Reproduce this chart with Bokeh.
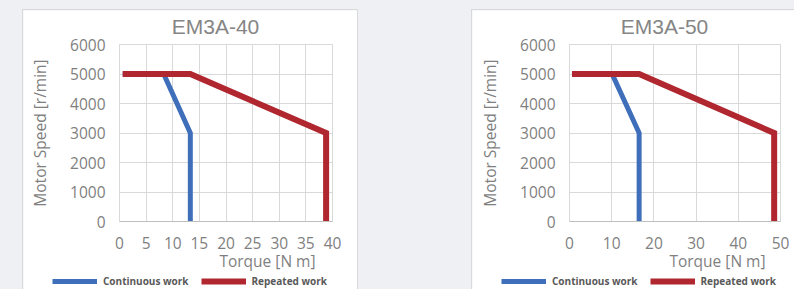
from bokeh.plotting import figure
from bokeh.models import Range1d, Label, Legend, LegendItem, FixedTicker, Grid
from bokeh.layouts import row
from bokeh.embed import file_html
from bokeh.resources import INLINE

# ---------------- data ----------------
speed_ticks = [0, 1000, 2000, 3000, 4000, 5000, 6000]

title_40 = "EM3A-40"
torque_ticks_40 = [0, 5, 10, 15, 20, 25, 30, 35, 40]
cont_torque_40 = [0.6, 8.3, 13.3, 13.3]
cont_speed_40 = [5000, 5000, 3000, 0]
rep_torque_40 = [0.6, 13.3, 38.8, 38.8]
rep_speed_40 = [5000, 5000, 3000, 0]

title_50 = "EM3A-50"
torque_ticks_50 = [0, 10, 20, 30, 40, 50]
cont_torque_50 = [0.6, 10.1, 16.5, 16.5]
cont_speed_50 = [5000, 5000, 3000, 0]
rep_torque_50 = [0.6, 16.5, 48.5, 48.5]
rep_speed_50 = [5000, 5000, 3000, 0]

series_names = ["Continuous work", "Repeated work"]
x_title = "Torque [N m]"
y_title = "Motor Speed [r/min]"

BLUE = "#3f6fba"
RED = "#b0272f"
GRID = "#d9d9d9"
TXT = "#7f7f7f"
FONT = "Open Sans"

HAS_CROSS = "cross_bounds" in Grid.properties()


def make_chart(title, ticks, ct, cs, rt, rs, width, frame_left, frame_width,
               margin_left, xlabel_right):
    height = 279
    frame_top = 34
    frame_bottom = 211
    xmax = ticks[-1]
    ymax = speed_ticks[-1]
    kx = frame_width / xmax
    ky = (frame_bottom - frame_top) / ymax

    def px2x(px):
        return (px - frame_left) / kx

    def py2y(py):
        return (frame_bottom - py) / ky

    p = figure(width=width, height=height,
               x_range=Range1d(px2x(0), px2x(width)),
               y_range=Range1d(py2y(height), py2y(0)),
               output_backend="svg", toolbar_location=None,
               min_border=0, min_border_left=0, min_border_right=0,
               min_border_top=0, min_border_bottom=0,
               background_fill_color="white", border_fill_color="white",
               outline_line_color=None,
               margin=(10, 0, 0, margin_left),
               styles={"outline": "1px solid #d9d9d9"})

    for ax in (p.xaxis, p.yaxis):
        ax.major_tick_line_color = None
        ax.minor_tick_line_color = None
        ax.major_tick_out = 0
        ax.major_tick_in = 0
        ax.minor_tick_out = 0
        ax.minor_tick_in = 0
        ax.major_label_text_font = FONT
        ax.major_label_text_font_size = "15.5px"
        ax.major_label_text_color = TXT
    p.xaxis.ticker = FixedTicker(ticks=ticks)
    p.yaxis.ticker = FixedTicker(ticks=speed_ticks)
    p.xaxis.fixed_location = 0
    p.yaxis.fixed_location = 0
    p.xaxis.bounds = (0, xmax)
    p.yaxis.bounds = (0, ymax)
    p.xaxis.axis_line_color = "#bfbfbf"
    p.yaxis.axis_line_color = GRID
    p.xaxis.major_label_standoff = 15
    p.yaxis.major_label_standoff = 14

    p.yaxis.axis_label = y_title
    p.yaxis.axis_label_text_font = FONT
    p.yaxis.axis_label_text_font_size = "15.5px"
    p.yaxis.axis_label_text_font_style = "normal"
    p.yaxis.axis_label_text_color = TXT
    p.yaxis.axis_label_standoff = 16

    if HAS_CROSS:
        p.xgrid.bounds = (0, xmax)
        p.ygrid.bounds = (0, ymax)
        p.xgrid.cross_bounds = (0, ymax)
        p.ygrid.cross_bounds = (0, xmax)
        p.grid.grid_line_color = GRID
        p.grid.grid_line_width = 1
    else:
        p.grid.visible = False
        gx = [[t, t] for t in ticks] + [[0, xmax] for _ in speed_ticks]
        gy = [[0, ymax] for _ in ticks] + [[s, s] for s in speed_ticks]
        p.multi_line(gx, gy, line_color=GRID, line_width=1, level="underlay")

    b = p.line(ct, cs, line_color=BLUE, line_width=5, line_join="miter", line_cap="butt")
    r = p.line(rt, rs, line_color=RED, line_width=6, line_join="miter", line_cap="butt")

    p.add_layout(Label(x=px2x(192), y=py2y(16), text=title,
                       text_align="center", text_baseline="middle",
                       text_font="Liberation Sans", text_font_size="21px",
                       text_color="#858585"))
    p.add_layout(Label(x=px2x(xlabel_right), y=py2y(250), text=x_title,
                       text_align="right", text_baseline="middle",
                       text_font=FONT, text_font_size="15.5px",
                       text_color=TXT))

    legend = Legend(items=[LegendItem(label=series_names[0], renderers=[b]),
                           LegendItem(label=series_names[1], renderers=[r])],
                    orientation="horizontal",
                    location=(29, 1),
                    glyph_width=45, glyph_height=12, label_height=12,
                    label_standoff=6, spacing=12, padding=0, margin=0,
                    border_line_color=None, background_fill_alpha=0,
                    label_text_font=FONT, label_text_font_size="10px",
                    label_text_font_style="bold", label_text_color="#595959")
    p.add_layout(legend)
    return p


p1 = make_chart(title_40, torque_ticks_40, cont_torque_40, cont_speed_40,
                rep_torque_40, rep_speed_40, 334, 96, 213, 23, 292)
p2 = make_chart(title_50, torque_ticks_50, cont_torque_50, cont_speed_50,
                rep_torque_50, rep_speed_50, 322, 97, 211, 115, 293)

layout = row(p1, p2)
html = file_html(layout, INLINE, title="EM3A")
html = html.replace("<head>", "<head><style>html,body{background:#eef0f3;overflow:hidden;margin:0;}</style>", 1)
open("out.html", "w").write(html)
